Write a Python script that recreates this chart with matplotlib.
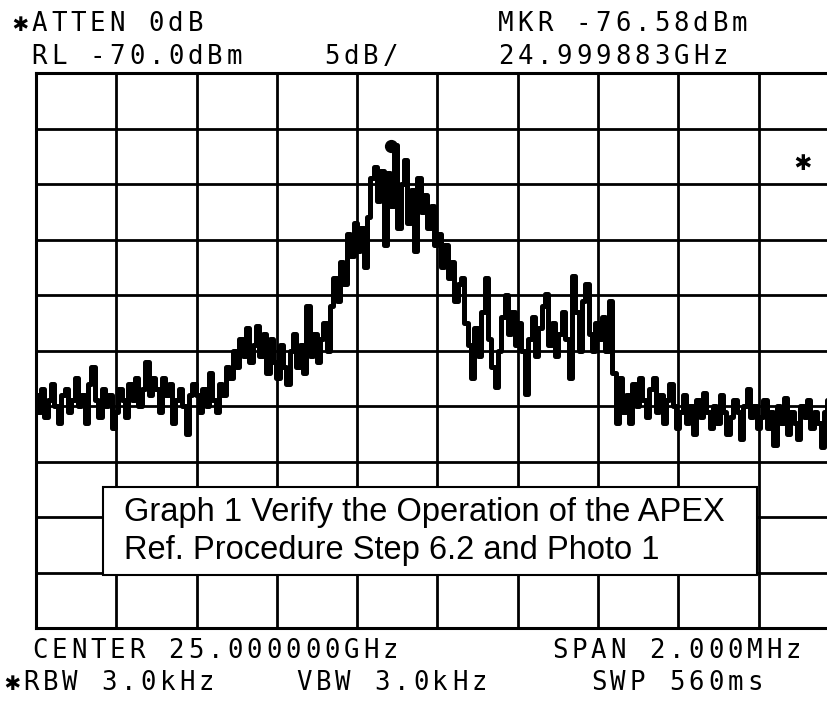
import matplotlib
matplotlib.use("Agg")
import matplotlib.pyplot as plt
from matplotlib.patches import Rectangle
import numpy as np

# instrument settings
ref_level = -70.0      # dBm, top of screen
db_per_div = 5.0
span_mhz = 2.0
mkr_offset_mhz = -0.117   # 24.999883 GHz relative to 25 GHz
mkr_level = -76.58

# trace, 24 points per division (dBm)
level_dbm = [
    # div 0
    -99.0, -100.5, -98.5, -101.0, -99.5, -98.0, -100.0, -101.5, -99.0, -98.5, -100.5, -99.5,
    -97.5, -100.0, -99.0, -101.5, -98.0, -96.5, -99.5, -101.0, -98.5, -100.0, -99.0, -102.0,
    # div 1
    -100.5, -98.5, -99.5, -101.0, -98.0, -99.5, -97.5, -100.0, -98.5, -96.0, -99.0, -97.5,
    -98.5, -100.5, -97.5, -99.0, -98.0, -101.5, -99.5, -98.5, -100.0, -102.5, -99.0, -98.0,
    # div 2
    -99.0, -100.5, -98.5, -100.0, -97.0, -99.5, -100.5, -98.0, -99.0, -96.5, -97.5, -95.0,
    -96.5, -94.0, -95.5, -93.0, -96.0, -94.5, -92.8, -95.5, -93.5, -97.0, -94.0, -96.0,
    # div 3
    -97.5, -94.5, -96.5, -98.0, -95.0, -93.5, -96.5, -94.5, -97.0, -91.0, -95.5, -93.5,
    -96.0, -94.0, -92.5, -95.0, -91.0, -88.5, -90.5, -87.0, -89.0, -84.5, -86.5, -83.5,
    # div 4
    -86.0, -84.0, -87.5, -83.0, -79.5, -78.5, -81.5, -78.8, -85.5, -79.0, -82.0, -76.5,
    -84.0, -80.0, -77.8, -83.5, -80.5, -86.0, -79.5, -82.5, -81.0, -84.0, -82.0, -85.5,
    # div 5
    -84.5, -87.5, -85.5, -88.5, -87.0, -90.5, -89.0, -88.5, -92.5, -94.5, -97.5, -93.0,
    -95.5, -91.5, -88.5, -94.0, -96.5, -98.3, -95.0, -92.0, -90.0, -93.5, -91.5, -94.5,
    # div 6
    -92.5, -95.0, -98.9, -94.0, -92.0, -95.5, -93.0, -91.0, -89.9, -94.5, -92.5, -95.5,
    -93.5, -91.5, -94.0, -97.5, -88.3, -91.5, -95.0, -90.5, -89.0, -93.5, -95.0, -92.5,
    # div 7
    -94.0, -92.0, -95.0, -90.5, -97.0, -101.5, -97.5, -100.5, -99.0, -101.5, -98.0, -100.0,
    -97.5, -99.5, -101.0, -98.5, -97.5, -100.5, -99.0, -101.5, -99.5, -98.0, -100.0, -102.0,
    # div 8
    -100.5, -99.0, -101.5, -100.0, -102.5, -99.5, -101.0, -98.8, -100.5, -102.0, -100.0, -101.5,
    -99.0, -100.5, -102.5, -101.0, -99.5, -100.5, -103.0, -100.0, -98.5, -101.0, -100.0, -102.0,
    # div 9
    -101.0, -99.5, -102.0, -100.5, -103.5, -100.0, -101.5, -99.3, -102.5, -100.5, -101.5, -103.0,
    -100.0, -101.0, -99.5, -102.0, -100.5, -101.5, -103.7, -100.5, -99.5, -101.5, -100.0, -102.0,
]

header_left = ["✱ATTEN 0dB", " RL -70.0dBm"]
header_mid = "5dB/"
header_right = ["MKR -76.58dBm", "24.999883GHz"]
footer_left = ["CENTER 25.000000GHz", "✱RBW 3.0kHz"]
footer_mid = "VBW 3.0kHz"
footer_right = ["SPAN 2.000MHz", "  SWP 560ms"]
caption = ["Graph 1 Verify the Operation of the APEX",
           "Ref. Procedure Step 6.2 and Photo 1"]

W, H = 828, 705
fig = plt.figure(figsize=(W / 100, H / 100), dpi=100)
fig.patch.set_facecolor("white")

# screen: 10 x 10 divisions, right edge runs off the photo
gx0, gx1, gy0, gy1 = 36, 839, 73, 628
ax = fig.add_axes([gx0 / W, 1 - gy1 / H, (gx1 - gx0) / W, (gy1 - gy0) / H])

freq = np.linspace(-span_mhz / 2, span_mhz / 2, len(level_dbm))
# blocky plotter trace: vertical strokes with flat tops
ax.plot(freq, level_dbm, color="black", lw=3.6, drawstyle="steps-mid")
ax.plot([mkr_offset_mhz], [mkr_level], "o", color="black", ms=8.5)

ax.set_xlim(-span_mhz / 2, span_mhz / 2)
ax.set_ylim(ref_level - 10 * db_per_div, ref_level)
ax.set_xticks(np.linspace(-span_mhz / 2, span_mhz / 2, 11))
ax.set_yticks(np.arange(ref_level - 10 * db_per_div, ref_level + 1, db_per_div))
ax.grid(True, color="black", lw=2.0)
ax.set_axisbelow(True)
ax.tick_params(length=0, labelbottom=False, labelleft=False)
for sp in ax.spines.values():
    sp.set_linewidth(2.2)

pitch = 19.5
mono = ["DejaVu Sans Mono", "DejaVu Sans"]


def plotter_text(x_px, y_px, s, size=18.5):
    # fixed-pitch lettering like the analyzer's plotter
    for i, ch in enumerate(s):
        if ch == " ":
            continue
        fig.text((x_px + (i + 0.5) * pitch) / W, 1 - y_px / H, ch,
                 ha="center", va="center", family=mono, size=size)


plotter_text(10, 24, header_left[0])
plotter_text(10, 57, header_left[1])
plotter_text(322, 57, header_mid)
plotter_text(496, 24, header_right[0])
plotter_text(496, 57, header_right[1])
plotter_text(30, 651, footer_left[0])
plotter_text(2, 683, footer_left[1])
plotter_text(294, 683, footer_mid)
plotter_text(550, 651, footer_right[0])
plotter_text(550, 683, footer_right[1])
plotter_text(793, 162, "✱", size=20)

# pasted caption box
fig.patches.append(Rectangle((103 / W, 1 - 575 / H), (757 - 103) / W, (575 - 487) / H,
                             transform=fig.transFigure, facecolor="white",
                             edgecolor="black", lw=1.5, zorder=5))
fig.text(124 / W, 1 - 512 / H, caption[0], ha="left", va="center",
         family="Liberation Sans", size=23.5, zorder=6)
fig.text(124 / W, 1 - 551 / H, caption[1], ha="left", va="center",
         family="Liberation Sans", size=23.5, zorder=6)

fig.savefig("out.png", dpi=100, facecolor="white")
